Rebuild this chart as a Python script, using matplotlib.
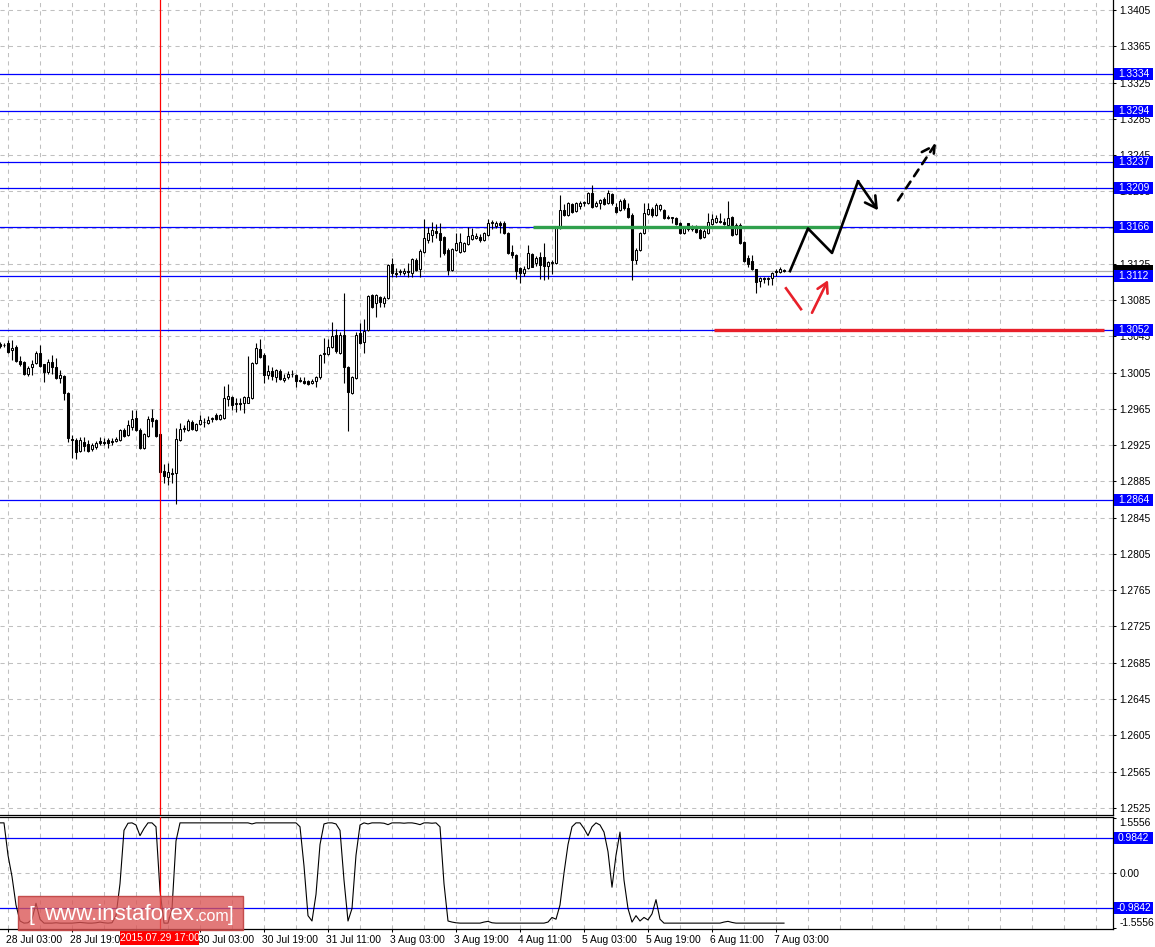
import matplotlib
matplotlib.use("Agg")
import matplotlib.pyplot as plt
from matplotlib.patches import Rectangle
from matplotlib.collections import LineCollection
import matplotlib.transforms as mtransforms

# ---------------- data ----------------
first_bar = -2  # bar 0 = 28 Jul 03:00, one bar per hour

opens = [1.3037, 1.3035, 1.3038, 1.3030, 1.3033, 1.3018, 1.3017, 1.3004, 1.3011, 1.3016,
         1.3027, 1.3014, 1.3006, 1.3017, 1.3011, 1.2999, 1.3001, 1.2982, 1.2932, 1.2931,
         1.2919, 1.2929, 1.2926, 1.2921, 1.2923, 1.2930, 1.2929, 1.2931, 1.2930, 1.2930,
         1.2931, 1.2942, 1.2936, 1.2945, 1.2955, 1.2942, 1.2922, 1.2935, 1.2955, 1.2953,
         1.2937, 1.2897, 1.2890, 1.2894, 1.2894, 1.2931, 1.2943, 1.2942, 1.2951, 1.2942,
         1.2948, 1.2950, 1.2949, 1.2954, 1.2958, 1.2954, 1.2955, 1.2976, 1.2978, 1.2970,
         1.2971, 1.2972, 1.2972, 1.2977, 1.3016, 1.3031, 1.3024, 1.3002, 1.3007, 1.3000,
         1.3007, 1.2997, 1.3000, 1.3003, 1.3002, 1.2997, 1.2996, 1.2996, 1.2994, 1.2996,
         1.3000, 1.3027, 1.3025, 1.3033, 1.3046, 1.3027, 1.3046, 1.3011, 1.2982, 1.2999,
         1.3049, 1.3039, 1.3052, 1.3091, 1.3082, 1.3088, 1.3082, 1.3087, 1.3125, 1.3115,
         1.3116, 1.3115, 1.3117, 1.3115, 1.3129, 1.3119, 1.3138, 1.3151, 1.3157, 1.3161,
         1.3159, 1.3155, 1.3140, 1.3118, 1.3140, 1.3138, 1.3139, 1.3147, 1.3152, 1.3154,
         1.3155, 1.3151, 1.3157, 1.3170, 1.3167, 1.3170, 1.3170, 1.3159, 1.3138, 1.3135,
         1.3120, 1.3115, 1.3120, 1.3136, 1.3126, 1.3132, 1.3132, 1.3123, 1.3126, 1.3126,
         1.3165, 1.3184, 1.3179, 1.3191, 1.3183, 1.3189, 1.3192, 1.3192, 1.3203, 1.3189,
         1.3192, 1.3196, 1.3192, 1.3202, 1.3188, 1.3184, 1.3195, 1.3187, 1.3179, 1.3129,
         1.3140, 1.3159, 1.3180, 1.3185, 1.3179, 1.3185, 1.3184, 1.3177, 1.3176, 1.3176,
         1.3170, 1.3159, 1.3170, 1.3164, 1.3165, 1.3162, 1.3155, 1.3159, 1.3169, 1.3171,
         1.3172, 1.3171, 1.3168, 1.3177, 1.3158, 1.3168, 1.3149, 1.3131, 1.3128, 1.3119,
         1.3106, 1.3109, 1.3108, 1.3109, 1.3117, 1.3116, 1.3118]
highs = [1.3039, 1.3038, 1.3041, 1.3041, 1.3035, 1.3023, 1.3018, 1.3012, 1.3019, 1.3029,
         1.3035, 1.3015, 1.3020, 1.3024, 1.3021, 1.3008, 1.3002, 1.2984, 1.2936, 1.2933,
         1.2934, 1.2934, 1.2931, 1.2927, 1.2930, 1.2934, 1.2933, 1.2933, 1.2933, 1.2934,
         1.2943, 1.2944, 1.2953, 1.2964, 1.2964, 1.2944, 1.2938, 1.2957, 1.2965, 1.2954,
         1.2938, 1.2904, 1.2905, 1.2900, 1.2944, 1.2949, 1.2947, 1.2954, 1.2953, 1.2949,
         1.2958, 1.2955, 1.2957, 1.2956, 1.2960, 1.2959, 1.2990, 1.2992, 1.2979, 1.2977,
         1.2977, 1.2979, 1.3023, 1.3017, 1.3038, 1.3042, 1.3027, 1.3013, 1.3011, 1.3009,
         1.3009, 1.3004, 1.3007, 1.3008, 1.3003, 1.3000, 1.3000, 1.2997, 1.2998, 1.3001,
         1.3025, 1.3043, 1.3042, 1.3061, 1.3053, 1.3050, 1.3093, 1.3012, 1.3001, 1.3050,
         1.3060, 1.3064, 1.3091, 1.3092, 1.3092, 1.3090, 1.3090, 1.3125, 1.3131, 1.3120,
         1.3119, 1.3120, 1.3126, 1.3131, 1.3131, 1.3141, 1.3174, 1.3166, 1.3171, 1.3169,
         1.3170, 1.3156, 1.3143, 1.3143, 1.3159, 1.3159, 1.3149, 1.3166, 1.3165, 1.3159,
         1.3158, 1.3160, 1.3174, 1.3173, 1.3172, 1.3172, 1.3172, 1.3160, 1.3146, 1.3136,
         1.3121, 1.3123, 1.3146, 1.3137, 1.3134, 1.3138, 1.3148, 1.3128, 1.3129, 1.3166,
         1.3201, 1.3191, 1.3193, 1.3192, 1.3193, 1.3194, 1.3194, 1.3204, 1.3212, 1.3194,
         1.3196, 1.3199, 1.3206, 1.3203, 1.3192, 1.3196, 1.3198, 1.3192, 1.3181, 1.3142,
         1.3160, 1.3192, 1.3192, 1.3188, 1.3192, 1.3191, 1.3185, 1.3179, 1.3177, 1.3177,
         1.3171, 1.3166, 1.3170, 1.3168, 1.3168, 1.3165, 1.3163, 1.3181, 1.3180, 1.3179,
         1.3181, 1.3176, 1.3194, 1.3178, 1.3170, 1.3170, 1.3150, 1.3135, 1.3135, 1.3119,
         1.3110, 1.3110, 1.3110, 1.3116, 1.3119, 1.3122, 1.3119]
lows = [1.3032, 1.3033, 1.3027, 1.3019, 1.3017, 1.3012, 1.3002, 1.3001, 1.3002, 1.3014,
        1.3011, 1.2995, 1.3004, 1.3004, 1.2998, 1.2994, 1.2975, 1.2929, 1.2911, 1.2910,
        1.2917, 1.2919, 1.2917, 1.2919, 1.2921, 1.2925, 1.2925, 1.2922, 1.2925, 1.2928,
        1.2930, 1.2934, 1.2935, 1.2942, 1.2941, 1.2921, 1.2921, 1.2934, 1.2945, 1.2934,
        1.2894, 1.2883, 1.2881, 1.2883, 1.2860, 1.2930, 1.2940, 1.2941, 1.2942, 1.2941,
        1.2947, 1.2945, 1.2948, 1.2951, 1.2953, 1.2953, 1.2954, 1.2968, 1.2964, 1.2962,
        1.2964, 1.2960, 1.2971, 1.2976, 1.3014, 1.3021, 1.2994, 1.2998, 1.2997, 1.2995,
        1.2997, 1.2995, 1.2998, 1.3000, 1.2989, 1.2995, 1.2992, 1.2991, 1.2992, 1.2989,
        1.2998, 1.3016, 1.3024, 1.3032, 1.3027, 1.3026, 1.2994, 1.2941, 1.2981, 1.2998,
        1.3037, 1.3027, 1.3051, 1.3076, 1.3066, 1.3077, 1.3077, 1.3086, 1.3110, 1.3110,
        1.3113, 1.3113, 1.3110, 1.3110, 1.3117, 1.3110, 1.3137, 1.3148, 1.3149, 1.3154,
        1.3132, 1.3135, 1.3113, 1.3117, 1.3139, 1.3137, 1.3138, 1.3146, 1.3151, 1.3152,
        1.3149, 1.3150, 1.3156, 1.3163, 1.3165, 1.3159, 1.3158, 1.3136, 1.3131, 1.3108,
        1.3104, 1.3112, 1.3119, 1.3121, 1.3123, 1.3108, 1.3107, 1.3108, 1.3114, 1.3125,
        1.3163, 1.3178, 1.3178, 1.3181, 1.3182, 1.3186, 1.3189, 1.3191, 1.3187, 1.3188,
        1.3186, 1.3190, 1.3191, 1.3190, 1.3181, 1.3183, 1.3184, 1.3176, 1.3107, 1.3125,
        1.3139, 1.3158, 1.3179, 1.3177, 1.3178, 1.3183, 1.3174, 1.3174, 1.3170, 1.3168,
        1.3158, 1.3158, 1.3161, 1.3161, 1.3159, 1.3152, 1.3154, 1.3158, 1.3168, 1.3170,
        1.3170, 1.3168, 1.3167, 1.3156, 1.3157, 1.3147, 1.3127, 1.3121, 1.3118, 1.3093,
        1.3099, 1.3104, 1.3102, 1.3102, 1.3112, 1.3115, 1.3116]
closes = [1.3034, 1.3036, 1.3028, 1.3032, 1.3018, 1.3014, 1.3003, 1.3010, 1.3014, 1.3027,
          1.3012, 1.3006, 1.3017, 1.3011, 1.2999, 1.3002, 1.2982, 1.2933, 1.2931, 1.2917,
          1.2931, 1.2924, 1.2919, 1.2925, 1.2927, 1.2927, 1.2927, 1.2927, 1.2929, 1.2932,
          1.2942, 1.2935, 1.2947, 1.2954, 1.2942, 1.2922, 1.2937, 1.2954, 1.2952, 1.2935,
          1.2895, 1.2891, 1.2895, 1.2893, 1.2932, 1.2943, 1.2944, 1.2952, 1.2943, 1.2948,
          1.2953, 1.2951, 1.2953, 1.2955, 1.2954, 1.2958, 1.2977, 1.2979, 1.2969, 1.2971,
          1.2970, 1.2978, 1.2978, 1.3016, 1.3032, 1.3022, 1.3002, 1.3007, 1.3001, 1.3008,
          1.2998, 1.2999, 1.3004, 1.3004, 1.2996, 1.2996, 1.2994, 1.2992, 1.2996, 1.3000,
          1.3024, 1.3026, 1.3033, 1.3045, 1.3029, 1.3046, 1.3011, 1.2984, 1.3000, 1.3046,
          1.3038, 1.3051, 1.3090, 1.3077, 1.3091, 1.3083, 1.3087, 1.3124, 1.3115, 1.3114,
          1.3117, 1.3117, 1.3116, 1.3130, 1.3118, 1.3139, 1.3153, 1.3159, 1.3162, 1.3159,
          1.3151, 1.3137, 1.3118, 1.3141, 1.3148, 1.3149, 1.3148, 1.3156, 1.3157, 1.3156,
          1.3151, 1.3159, 1.3170, 1.3171, 1.3170, 1.3168, 1.3159, 1.3137, 1.3135, 1.3117,
          1.3115, 1.3119, 1.3137, 1.3122, 1.3131, 1.3124, 1.3123, 1.3127, 1.3127, 1.3165,
          1.3184, 1.3179, 1.3192, 1.3182, 1.3192, 1.3192, 1.3193, 1.3203, 1.3188, 1.3192,
          1.3195, 1.3191, 1.3203, 1.3192, 1.3182, 1.3194, 1.3187, 1.3177, 1.3129, 1.3140,
          1.3159, 1.3181, 1.3185, 1.3179, 1.3190, 1.3190, 1.3176, 1.3176, 1.3177, 1.3169,
          1.3159, 1.3165, 1.3163, 1.3163, 1.3160, 1.3153, 1.3161, 1.3171, 1.3174, 1.3176,
          1.3171, 1.3169, 1.3176, 1.3157, 1.3168, 1.3148, 1.3128, 1.3125, 1.3119, 1.3105,
          1.3109, 1.3108, 1.3109, 1.3115, 1.3116, 1.3119, 1.3117]

indicator = [1.41, 1.41, 0.50, -0.10, -0.90, -1.35, -1.41, -1.40, -1.30, -0.85,
             -1.30, -1.41, -1.41, -1.41, -1.40, -1.41, -1.41, -1.41, -1.41, -1.40,
             -1.39, -1.40, -1.41, -1.41, -1.40, -1.38, -1.40, -1.41, -1.40, -1.20,
             -0.30, 1.20, 1.40, 1.41, 1.35, 1.05, 1.25, 1.41, 1.41, 1.30,
             -0.50, -1.41, -1.41, -1.00, 0.90, 1.41, 1.41, 1.41, 1.41, 1.41,
             1.41, 1.41, 1.41, 1.41, 1.41, 1.41, 1.41, 1.41, 1.41, 1.41,
             1.41, 1.41, 1.41, 1.38, 1.41, 1.41, 1.41, 1.41, 1.41, 1.41,
             1.41, 1.41, 1.41, 1.41, 1.41, 1.30, 0.20, -1.20, -1.35, -0.60,
             0.80, 1.38, 1.41, 1.41, 1.38, 1.20, -0.20, -1.35, -1.00, 0.50,
             1.35, 1.41, 1.38, 1.41, 1.41, 1.41, 1.40, 1.36, 1.41, 1.41,
             1.41, 1.40, 1.41, 1.41, 1.39, 1.36, 1.41, 1.41, 1.40, 1.41,
             1.30, -0.30, -1.35, -1.38, -1.40, -1.41, -1.41, -1.41, -1.41, -1.41,
             -1.41, -1.38, -1.36, -1.40, -1.41, -1.41, -1.41, -1.41, -1.41, -1.41,
             -1.41, -1.41, -1.41, -1.41, -1.41, -1.41, -1.41, -1.38, -1.25, -1.30,
             -0.90, 0.00, 0.80, 1.30, 1.41, 1.41, 1.25, 1.05, 1.30, 1.41,
             1.35, 1.15, 0.60, -0.40, 0.50, 1.15, -0.20, -1.00, -1.38, -1.20,
             -1.35, -1.25, -1.32, -1.15, -0.75, -1.30, -1.41, -1.41, -1.41, -1.41,
             -1.41, -1.41, -1.41, -1.41, -1.41, -1.41, -1.41, -1.41, -1.41, -1.41,
             -1.41, -1.38, -1.36, -1.39, -1.41, -1.41, -1.41, -1.41, -1.41, -1.41,
             -1.41, -1.41, -1.41, -1.41, -1.41, -1.41, -1.41]

price_ticks = [1.2525, 1.2565, 1.2605, 1.2645, 1.2685, 1.2725, 1.2765, 1.2805, 1.2845,
               1.2885, 1.2925, 1.2965, 1.3005, 1.3045, 1.3085, 1.3125, 1.3165, 1.3205,
               1.3245, 1.3285, 1.3325, 1.3365, 1.3405]
levels = [1.3334, 1.3294, 1.3237, 1.3209, 1.3166, 1.3112, 1.3052, 1.2864]
current_price = 1.3117

time_bars = [0, 16, 32, 48, 64, 80, 96, 112, 128, 144, 160, 176, 192]
# the 29 Jul 11:00 label sits under the highlighted marker label and is not visible
time_labels = ["28 Jul 03:00", "28 Jul 19:00", "", "30 Jul 03:00",
               "30 Jul 19:00", "31 Jul 11:00", "3 Aug 03:00", "3 Aug 19:00",
               "4 Aug 11:00", "5 Aug 03:00", "5 Aug 19:00", "6 Aug 11:00", "7 Aug 03:00"]
marker_bar = 38
marker_label = "2015.07.29 17:00"

ind_levels = [0.9842, -0.9842]
ind_ticks = [1.5556, 0.0, -1.5556]
ind_tick_labels = ["1.5556", "0.00", "-1.5556"]

# drawn forecast (bar, price)
green_x = [131.25, 208.0]
green_y = [1.3166, 1.3166]
redlvl_x = [176.5, 274.0]
redlvl_y = [1.3052, 1.3052]
black_path_x = [195.5, 200.0, 206.0, 212.5, 217.5]
black_path_y = [1.3117, 1.3164, 1.3137, 1.3216, 1.3184]
dash_path_x = [222.5, 232.0]
dash_path_y = [1.3195, 1.3258]
red_seg_x = [194.5, 198.25]
red_seg_y = [1.3098, 1.3075]
red_arrow_x = [201.0, 205.0]
red_arrow_y = [1.3071, 1.3107]

# ---------------- figure ----------------
W, H, DPI = 1155, 947, 100
plt.rcParams['font.family'] = ['Liberation Sans', 'DejaVu Sans']
fig = plt.figure(figsize=(W / DPI, H / DPI), dpi=DPI)
fig.patch.set_facecolor('white')


def fyf(py):
    return 1 - py / H


ax = fig.add_axes([0, fyf(815), 1113 / W, 815 / H])
ax2 = fig.add_axes([0, fyf(929), 1113 / W, 112 / H])

XMIN, XMAX = -2.0, 276.25
ax.set_xlim(XMIN, XMAX)
ax.set_ylim(1.251706, 1.3416)
ax2.set_xlim(XMIN, XMAX)
ax2.set_ylim(-1.575, 1.575)

GRID = dict(color='#C0C0C0', lw=0.75, ls=(0, (4, 4)))
FS = 7.4

# grids
for a in (ax, ax2):
    a.set_xticks(list(range(0, 273, 8)), minor=True)
    a.set_xticks(time_bars)
    a.grid(True, axis='x', which='both', zorder=0, **GRID)
    a.set_axisbelow(True)
ax.grid(True, axis='y', **GRID)
ax2.axhline(0.0, zorder=0, **GRID)

for a in (ax, ax2):
    a.spines['left'].set_visible(False)
    for s in ('right', 'bottom', 'top'):
        a.spines[s].set_color('black')
        a.spines[s].set_linewidth(0.9)
ax.spines['top'].set_visible(False)

# price axis
ax.yaxis.tick_right()
ax.set_yticks(price_ticks)
ax.set_yticklabels([f"{t:.4f}" for t in price_ticks])
ax.tick_params(axis='y', direction='out', length=2.5, width=0.75, pad=2, labelsize=FS)
ax.tick_params(axis='x', which='both', length=0, labelbottom=False)

ax2.yaxis.tick_right()
ax2.set_yticks(ind_ticks)
ax2.set_yticklabels(ind_tick_labels)
ax2.tick_params(axis='y', direction='out', length=2.5, width=0.75, pad=2, labelsize=FS)
lbls = ax2.get_yticklabels()
lbls[0].set_va('top')
lbls[-1].set_va('bottom')
ax2.set_xticklabels(time_labels)
ax2.tick_params(axis='x', which='major', direction='out', length=2.5, width=0.75,
                pad=2, labelsize=FS)
ax2.tick_params(axis='x', which='minor', length=0)
off = mtransforms.ScaledTranslation(-2 / DPI, 0, fig.dpi_scale_trans)
for t in ax2.get_xticklabels():
    t.set_ha('left')
    t.set_transform(t.get_transform() + off)

# levels
for lv in levels:
    ax.axhline(lv, color='#0000FF', lw=0.9, zorder=2)
ax.axhline(current_price, color='#B0B0B0', lw=0.9, zorder=1.5)

# candles
xs = [first_bar + k for k in range(len(opens))]
segs = [[(x, lo), (x, hi)] for x, lo, hi in zip(xs, lows, highs)]
ax.add_collection(LineCollection(segs, colors='black', linewidths=0.8, zorder=3))
for x, o, c in zip(xs, opens, closes):
    bottom = min(o, c)
    height = max(abs(c - o), 0.00002)
    fc = 'white' if c >= o else 'black'
    ax.add_patch(Rectangle((x - 0.3, bottom), 0.6, height, facecolor=fc,
                           edgecolor='black', lw=0.75, zorder=4))

# drawn objects
ax.plot(green_x, green_y, color='#2FA04C', lw=2.4, zorder=5, solid_capstyle='butt')
ax.plot(redlvl_x, redlvl_y, color='#E8202A', lw=2.4, zorder=5, solid_capstyle='butt')
ax.plot(black_path_x[:-1], black_path_y[:-1], color='black', lw=1.9, zorder=6)
ax.annotate('', xy=(black_path_x[-1], black_path_y[-1]),
            xytext=(black_path_x[-2], black_path_y[-2]),
            arrowprops=dict(arrowstyle='->,head_length=0.8,head_width=0.45', lw=1.9,
                            color='black', shrinkA=0, shrinkB=0), zorder=6)
ax.annotate('', xy=(dash_path_x[-1], dash_path_y[-1]),
            xytext=(dash_path_x[0], dash_path_y[0]),
            arrowprops=dict(arrowstyle='->,head_length=0.9,head_width=0.5', lw=1.9,
                            ls=(0, (3, 2.5)), color='black', shrinkA=0, shrinkB=0), zorder=6)
ax.plot(red_seg_x, red_seg_y, color='#E8202A', lw=1.9, zorder=6)
ax.annotate('', xy=(red_arrow_x[-1], red_arrow_y[-1]),
            xytext=(red_arrow_x[0], red_arrow_y[0]),
            arrowprops=dict(arrowstyle='->,head_length=0.7,head_width=0.4', lw=1.9,
                            color='#E8202A', shrinkA=0, shrinkB=0), zorder=6)

# indicator
ind_x = [first_bar + k for k in range(len(indicator))]
ax2.plot(ind_x, indicator, color='black', lw=0.8, zorder=3)
for lv in ind_levels:
    ax2.axhline(lv, color='#0000FF', lw=0.9, zorder=2)

# red vertical marker
ax.axvline(marker_bar, color='red', lw=0.9, zorder=7)
ax2.axvline(marker_bar, color='red', lw=0.9, zorder=7)


# value boxes on the price scale
def value_box(axis, value, text, face, ypad=6, z=10):
    ydisp = axis.transData.transform((0, value))[1]
    ypix = H - ydisp
    fig.add_artist(Rectangle((1114 / W, fyf(ypix + ypad)), 39 / W, 2 * ypad / H,
                             transform=fig.transFigure, facecolor=face,
                             edgecolor='none', zorder=z))
    if text:
        fig.text(1133.5 / W, fyf(ypix), text, color='white', fontsize=FS,
                 ha='center', va='center', zorder=z + 1)


# current-price box sits underneath the 1.3112 box (only a sliver shows)
value_box(ax, current_price, "", 'black', z=8)
for lv in levels:
    value_box(ax, lv, f"{lv:.4f}", '#0000FF')
for lv in ind_levels:
    value_box(ax2, lv, f"{lv:.4f}", '#0000FF')

# highlighted time label
xm = ax.transData.transform((marker_bar, 0))[0]
fig.add_artist(Rectangle(((xm - 40) / W, fyf(945)), 79 / W, 14 / H,
                         transform=fig.transFigure, facecolor='red', edgecolor='none',
                         zorder=10))
fig.text(xm / W, fyf(938), marker_label, color='white', fontsize=FS,
         ha='center', va='center', zorder=11)

# watermark
fig.add_artist(Rectangle((18 / W, fyf(930)), 225 / W, 34 / H, transform=fig.transFigure,
                         facecolor=(0.86, 0.33, 0.33, 0.78),
                         edgecolor=(0.75, 0.25, 0.25, 0.9), lw=1, zorder=12))
fig.text(29 / W, fyf(915), "[", color='white', fontsize=15, ha='left', va='center',
         zorder=13)
fig.text(44 / W, fyf(914), "www.instaforex", color='white', fontsize=16, ha='left',
         va='center', zorder=13)
fig.text(195 / W, fyf(916), ".com", color='white', fontsize=11.5, ha='left',
         va='center', zorder=13)
fig.text(228 / W, fyf(915), "]", color='white', fontsize=15, ha='left', va='center',
         zorder=13)

fig.savefig("out.png", dpi=DPI, facecolor='white')
